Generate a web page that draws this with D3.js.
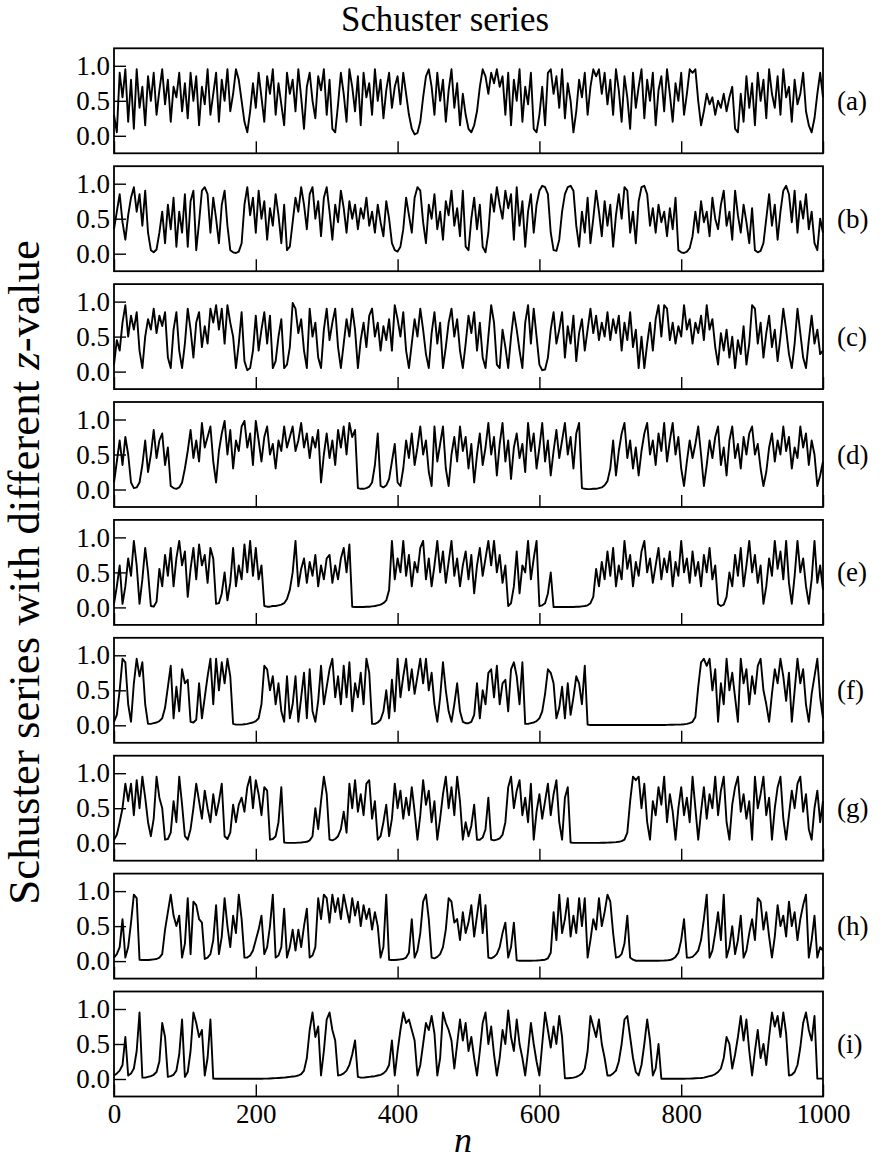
<!DOCTYPE html>
<html><head><meta charset="utf-8">
<script src="https://cdn.jsdelivr.net/npm/d3@7"></script>
<style>
body{margin:0;background:#fff}
svg{display:block}
text{font-family:"Liberation Serif","DejaVu Serif",serif;fill:#000}
</style>
</head><body>
<svg id="chart" width="888" height="1175"></svg>
<script>
// ---------------- data ----------------
const titleText = "Schuster series";
const yLabelMain = "Schuster series with different ";
const yLabelVar = "z";
const yLabelTail = "-value";
const xLabelText = "n";
const panelLabels = ["(a)","(b)","(c)","(d)","(e)","(f)","(g)","(h)","(i)"];
const xTicks = [0,200,400,600,800,1000];
const yTicks = [0.0,0.5,1.0];
const nStep = 4; // values sampled at n = 0,4,8,...,1000

const seriesA = [
.3,.05,.9,.55,.95,.2,.8,.1,.95,.4,.7,.15,.85,.5,.9,.3,.65,.95,.45,.8,.2,.7,.55,.9,.35,
.75,.25,.9,.5,.85,.15,.7,.45,.95,.3,.6,.9,.2,.8,.5,.95,.35,.6,.95,.8,.5,.2,.05,.35,.75,
.4,.9,.55,.2,.85,.6,.95,.3,.75,.45,.15,.9,.6,.8,.35,.95,.55,.1,.7,.9,.5,.25,.85,.65,.95,
.3,.8,.1,.05,.45,.9,.6,.2,.95,.7,.35,.85,.15,.9,.55,.75,.3,.95,.5,.8,.25,.65,.9,.4,.7,
.85,.45,.9,.6,.3,.1,.02,.04,.2,.55,.85,.95,.7,.3,.9,.5,.8,.2,.65,.95,.4,.75,.15,.6,.3,
.1,.05,.15,.35,.7,.95,.85,.6,.9,.75,.95,.7,.85,.3,.9,.15,.8,.5,.95,.2,.7,.45,.9,.1,.05,
.3,.7,.15,.9,.95,.6,.85,.4,.95,.25,.75,.5,.05,.35,.8,.55,.9,.3,.7,.95,.85,.95,.6,.9,.45,
.8,.3,.95,.65,.2,.85,.55,.1,.9,.4,.7,.95,.25,.8,.5,.9,.15,.65,.85,.35,.95,.6,.2,.75,.5,
.9,.3,.6,.95,.9,.95,.5,.15,.35,.6,.45,.55,.3,.5,.4,.6,.35,.55,.7,.1,.05,.6,.2,.85,.4,
.75,.15,.9,.5,.8,.25,.95,.6,.4,.85,.3,.95,.55,.7,.2,.8,.45,.6,.9,.35,.15,.05,.25,.6,.9,
.55];

const seriesB = [
.35,.6,.85,.45,.2,.55,.8,.95,.6,.85,.4,.9,.3,.05,.02,.06,.3,.6,.15,.7,.35,.8,.1,.6,.3,
.85,.1,.75,.9,.05,.45,.9,.95,.85,.3,.8,.5,.15,.7,.9,.4,.05,.02,.01,.03,.15,.7,.95,.55,.8,
.3,.9,.5,.75,.2,.65,.4,.85,.55,.15,.7,.05,.1,.45,.8,.6,.95,.7,.35,.85,.95,.5,.75,.25,.8,
.95,.6,.2,.7,.45,.9,.65,.3,.75,.5,.7,.35,.65,.5,.8,.4,.6,.3,.7,.45,.25,.75,.5,.15,.05,
.03,.1,.35,.8,.55,.3,.8,.95,.9,.45,.15,.7,.5,.85,.35,.6,.2,.75,.55,.9,.4,.65,.25,.9,.1,
.05,.5,.8,.35,.7,.1,.02,.3,.85,.6,.95,.7,.5,.9,.65,.85,.2,.95,.4,.75,.1,.6,.85,.3,.7,
.9,.97,.95,.85,.3,.05,.04,.2,.6,.85,.95,.97,.9,.4,.1,.6,.3,.8,.15,.5,.9,.6,.25,.75,.4,
.7,.1,.55,.85,.5,.95,.9,.3,.6,.15,.75,.95,.97,.85,.4,.65,.3,.7,.45,.6,.25,.65,.35,.8,.05,
.02,.01,.03,.08,.25,.6,.3,.75,.45,.6,.25,.8,.5,.35,.7,.9,.4,.6,.2,.9,.55,.3,.7,.45,.15,
.65,.05,.02,.04,.15,.5,.85,.4,.7,.2,.6,.9,.97,.85,.45,.9,.3,.75,.5,.85,.35,.6,.15,.05,.5,
.3];

const seriesC = [
.1,.45,.3,.7,.95,.5,.8,.6,.85,.3,.05,.5,.75,.6,.9,.55,.8,.65,.85,.2,.05,.6,.85,.3,.05,
.4,.9,.6,.2,.7,.85,.35,.65,.4,.9,.7,.95,.6,.9,.4,.95,.7,.5,.05,.4,.85,.15,.02,.05,.3,
.8,.3,.6,.85,.4,.8,.05,.15,.5,.75,.05,.1,.35,.98,.9,.55,.75,.3,.05,.9,.5,.7,.2,.05,.6,
.9,.45,.7,.9,.35,.05,.4,.75,.5,.9,.6,.05,.45,.7,.35,.8,.9,.5,.7,.3,.65,.45,.75,.3,.95,
.75,.5,.85,.3,.05,.4,.75,.5,.9,.6,.25,.05,.55,.85,.4,.7,.05,.35,.7,.9,.5,.75,.3,.05,.4,
.8,.55,.85,.3,.7,.2,.05,.5,.95,.7,.1,.05,.6,.35,.05,.5,.85,.6,.3,.05,.7,.95,.4,.9,.5,
.1,.02,.03,.2,.6,.85,.4,.6,.85,.2,.65,.4,.8,.15,.55,.75,.3,.6,.9,.55,.8,.45,.7,.5,.85,
.45,.75,.55,.8,.3,.7,.45,.85,.35,.6,.05,.5,.05,.4,.7,.3,.75,.95,.5,.95,.9,.45,.7,.4,.65,
.5,.95,.6,.75,.4,.7,.55,.8,.45,.95,.6,.75,.35,.1,.55,.3,.6,.2,.5,.05,.45,.25,.65,.1,.4,
.95,.9,.4,.7,.2,.55,.8,.35,.6,.15,.5,.9,.6,.25,.05,.4,.9,.55,.2,.05,.45,.8,.4,.6,.25,
.3];

const seriesD = [
.1,.4,.7,.35,.75,.5,.1,.02,.03,.1,.35,.7,.25,.5,.85,.45,.7,.8,.35,.6,.05,.02,.01,.03,.1,
.3,.55,.85,.45,.7,.4,.95,.6,.75,.9,.4,.1,.55,.8,.98,.5,.85,.3,.7,.55,.9,.98,.6,.8,.35,
.98,.7,.4,.75,.9,.5,.65,.3,.7,.55,.9,.6,.75,.9,.55,.7,.95,.6,.8,.45,.75,.6,.85,.1,.5,
.8,.45,.7,.35,.85,.6,.9,.5,.95,.75,.85,.02,.01,.01,.02,.04,.1,.35,.8,.05,.03,.06,.15,.4,.65,
.1,.05,.3,.7,.45,.8,.35,.6,.9,.5,.7,.25,.05,.9,.4,.65,.9,.3,.05,.5,.75,.4,.9,.55,.75,
.3,.65,.1,.5,.8,.35,.6,.95,.5,.75,.2,.65,.95,.4,.7,.15,.6,.8,.45,.65,.25,.95,.55,.8,.3,
.6,.95,.4,.7,.2,.55,.85,.45,.7,.95,.5,.75,.3,.8,.95,.02,.01,.005,.005,.01,.01,.02,.03,.06,.12,
.3,.7,.2,.55,.8,.95,.45,.7,.3,.6,.2,.55,.8,.95,.5,.7,.35,.8,.55,.95,.4,.7,.95,.5,.75,
.3,.05,.4,.7,.45,.65,.9,.5,.05,.35,.7,.45,.75,.9,.35,.6,.2,.7,.9,.45,.65,.3,.75,.5,.8,
.9,.5,.65,.3,.05,.25,.6,.8,.4,.7,.5,.9,.55,.75,.3,.6,.45,.9,.6,.8,.35,.7,.5,.05,.2,
.4];

const seriesE = [
.05,.3,.6,.05,.3,.7,.45,.95,.6,.05,.4,.85,.5,.02,.01,.08,.55,.3,.75,.45,.85,.3,.7,.95,.6,
.8,.15,.55,.85,.4,.9,.6,.75,.35,.85,.7,.05,.06,.2,.5,.1,.35,.85,.3,.6,.4,.9,.5,.95,.45,
.85,.4,.6,.02,.01,.01,.02,.02,.03,.04,.06,.12,.25,.5,.95,.3,.55,.7,.35,.65,.45,.75,.3,.6,.4,
.7,.75,.35,.6,.4,.7,.85,.5,.9,.01,.005,.005,.005,.005,.01,.01,.015,.02,.03,.04,.06,.1,.25,.95,.4,
.7,.5,.95,.45,.75,.3,.65,.5,.85,.95,.4,.7,.3,.6,.95,.5,.8,.35,.65,.95,.45,.7,.3,.6,.8,
.4,.75,.2,.6,.85,.45,.7,.95,.6,.95,.5,.75,.35,.6,.02,.06,.3,.8,.2,.6,.5,.95,.4,.7,.95,
.02,.03,.06,.2,.5,.005,.005,.005,.005,.005,.005,.005,.005,.01,.01,.015,.02,.03,.06,.15,.55,.3,.65,.4,.8,
.45,.85,.3,.6,.4,.95,.55,.75,.3,.65,.45,.8,.95,.5,.7,.35,.6,.85,.4,.7,.5,.8,.3,.65,.45,
.95,.5,.7,.35,.8,.45,.65,.3,.75,.5,.85,.4,.6,.05,.02,.04,.15,.5,.3,.75,.45,.85,.3,.6,.95,
.5,.75,.35,.6,.05,.3,.7,.45,.95,.55,.8,.4,.95,.35,.05,.45,.95,.5,.7,.3,.05,.4,.95,.35,.6,
.25];

const seriesF = [
.05,.15,.5,.95,.9,.3,.05,.6,.95,.7,.9,.3,.02,.02,.03,.04,.06,.1,.25,.55,.85,.1,.55,.2,.8,
.6,.65,.05,.04,.08,.6,.1,.4,.7,.95,.3,.95,.5,.9,.6,.95,.7,.02,.01,.01,.01,.015,.02,.03,.04,
.06,.1,.3,.85,.8,.5,.7,.3,.6,.2,.05,.7,.1,.3,.7,.05,.4,.75,.1,.8,.2,.05,.35,.85,.3,
.55,.8,.95,.4,.7,.3,.85,.4,.9,.2,.6,.4,.75,.3,.95,.75,.02,.02,.04,.08,.2,.5,.1,.65,.2,
.95,.4,.7,.95,.5,.8,.45,.7,.95,.6,.95,.5,.75,.3,.05,.4,.9,.5,.2,.05,.3,.6,.2,.05,.03,
.03,.05,.15,.6,.1,.5,.3,.75,.8,.4,.85,.3,.6,.65,.2,.8,.9,.7,.3,.9,.02,.02,.03,.04,.06,
.1,.2,.45,.8,.75,.6,.1,.25,.55,.1,.6,.15,.4,.7,.6,.3,.85,.01,.005,.005,.005,.005,.005,.005,.005,
.005,.005,.005,.005,.005,.005,.005,.005,.005,.005,.005,.005,.005,.005,.005,.005,.005,.005,.005,.005,.006,.007,.008,.009,.01,
.012,.015,.02,.03,.05,.12,.55,.9,.95,.85,.95,.5,.8,.05,.6,.3,.95,.5,.75,.4,.05,.95,.6,.8,.3,
.7,.45,.85,.95,.5,.3,.05,.45,.8,.6,.95,.7,.35,.75,.05,.5,.95,.6,.8,.3,.05,.45,.7,.95,.4,
.1];

const seriesG = [
.05,.12,.3,.5,.85,.6,.85,.4,.9,.5,.95,.65,.3,.1,.35,.95,.65,.5,.05,.06,.15,.6,.3,.95,.55,
.1,.05,.2,.5,.85,.6,.35,.75,.5,.3,.7,.4,.6,.85,.1,.06,.15,.55,.3,.55,.65,.45,.8,.95,.5,
.9,.7,.4,.8,.75,.05,.06,.1,.3,.8,.01,.005,.005,.005,.005,.008,.01,.015,.02,.04,.1,.5,.2,.6,.95,
.7,.05,.04,.06,.1,.2,.45,.15,.85,.5,.9,.45,.7,.4,.85,.9,.35,.6,.05,.1,.3,.55,.1,.35,.85,
.5,.75,.35,.65,.4,.8,.45,.05,.4,.9,.55,.75,.3,.6,.05,.35,.7,.95,.5,.8,.4,.95,.6,.05,.3,
.1,.25,.55,.05,.05,.08,.2,.65,.05,.04,.05,.07,.12,.3,.8,.95,.5,.75,.9,.4,.65,.3,.85,.05,.45,
.7,.35,.6,.85,.4,.7,.9,.3,.05,.65,.8,.01,.005,.005,.005,.005,.005,.005,.005,.005,.005,.005,.006,.007,.008,
.01,.012,.015,.02,.03,.05,.15,.6,.95,.9,.95,.5,.85,.3,.05,.6,.4,.8,.55,.95,.3,.7,.45,.05,.5,
.8,.4,.65,.3,.95,.5,.05,.45,.8,.35,.7,.5,.95,.4,.75,.95,.3,.05,.55,.8,.95,.45,.7,.35,.6,
.05,.95,.5,.7,.95,.4,.65,.05,.5,.8,.95,.35,.05,.4,.75,.5,.85,.95,.45,.7,.2,.05,.5,.75,.3,
.6];

const seriesH = [
.05,.1,.2,.6,.05,.2,.55,.95,.9,.02,.015,.015,.015,.02,.025,.03,.05,.1,.45,.7,.95,.65,.5,.65,.05,
.25,.9,.1,.85,.8,.6,.55,.03,.05,.1,.3,.8,.1,.35,.9,.5,.2,.65,.4,.95,.6,.05,.05,.08,.15,
.3,.45,.65,.1,.2,.5,.95,.05,.08,.2,.75,.05,.2,.45,.15,.45,.2,.5,.75,.05,.08,.2,.9,.6,.95,
.9,.55,.95,.7,.9,.6,.95,.75,.55,.9,.65,.85,.5,.8,.6,.75,.45,.7,.5,.05,.2,.95,.02,.015,.015,
.02,.025,.03,.05,.12,.6,.05,.15,.4,.85,.95,.6,.05,.04,.06,.1,.2,.45,.9,.85,.55,.6,.3,.7,.4,
.55,.8,.35,.65,.95,.4,.8,.05,.04,.06,.1,.2,.4,.55,.05,.2,.55,.01,.005,.005,.005,.005,.006,.007,.008,
.01,.015,.02,.04,.12,.7,.3,.95,.4,.6,.9,.35,.65,.4,.9,.5,.9,.05,.3,.6,.45,.9,.5,.7,.95,
.85,.4,.05,.06,.1,.25,.65,.05,.02,.005,.005,.005,.005,.005,.005,.005,.005,.006,.007,.008,.01,.015,.03,.06,.12,
.3,.6,.05,.05,.06,.1,.15,.3,.6,.95,.05,.15,.4,.7,.3,.95,.05,.2,.5,.1,.3,.65,.05,.15,.4,
.6,.3,.9,.85,.45,.7,.35,.05,.35,.8,.5,.65,.35,.85,.5,.7,.3,.6,.8,.95,.05,.3,.65,.05,.2,
.15];

const seriesI = [
.05,.08,.12,.2,.6,.05,.08,.15,.4,.95,.02,.02,.03,.04,.06,.1,.25,.8,.6,.03,.04,.06,.12,.35,.85,
.03,.1,.4,.95,.8,.6,.7,.05,.3,.85,.005,.003,.003,.003,.003,.003,.003,.003,.003,.003,.003,.003,.003,.003,.003,
.003,.003,.004,.005,.006,.008,.01,.012,.015,.018,.02,.025,.03,.035,.04,.05,.07,.12,.3,.7,.95,.6,.75,.05,.4,
.85,.95,.7,.55,.05,.06,.08,.12,.2,.35,.55,.03,.02,.02,.025,.03,.035,.04,.05,.06,.08,.12,.2,.55,.05,
.4,.7,.95,.8,.85,.7,.55,.05,.2,.5,.8,.7,.9,.65,.05,.3,.95,.8,.7,.55,.15,.5,.85,.55,.8,
.4,.6,.3,.05,.4,.8,.95,.5,.75,.35,.05,.3,.7,.5,.98,.6,.4,.85,.5,.3,.05,.4,.8,.5,.25,
.05,.5,.95,.7,.45,.75,.5,.9,.6,.01,.01,.015,.02,.03,.05,.08,.15,.4,.9,.75,.6,.85,.5,.3,.05,
.05,.08,.12,.25,.5,.85,.9,.6,.3,.1,.05,.2,.5,.85,.55,.05,.15,.5,.003,.003,.003,.003,.003,.003,.003,
.003,.004,.005,.006,.008,.01,.012,.015,.02,.03,.04,.05,.07,.1,.15,.3,.6,.5,.15,.35,.6,.9,.55,.85,.4,
.05,.4,.7,.3,.5,.2,.6,.95,.75,.9,.6,.95,.65,.05,.06,.1,.2,.45,.8,.95,.7,.55,.9,.005,.005,
.005];

const allSeries = [seriesA,seriesB,seriesC,seriesD,seriesE,seriesF,seriesG,seriesH,seriesI];

// ---------------- drawing ----------------
const svg = d3.select("#chart");
const FONT = "Liberation Serif";
const plotLeft = 114, plotRight = 823;
const panelTop = 48.3, panelH = 105, panelGap = 117.9;
const yDomain = [-0.25, 1.25];

const x = d3.scaleLinear().domain([0, 1000]).range([plotLeft, plotRight]);

allSeries.forEach((vals, k) => {
  const top = panelTop + k * panelGap;
  const y = d3.scaleLinear().domain(yDomain).range([top + panelH, top]);
  const g = svg.append("g");

  const line = d3.line().x((d, i) => x(i * nStep)).y(d => y(d));
  g.append("path").datum(vals)
    .attr("d", line)
    .attr("fill", "none")
    .attr("stroke", "#000")
    .attr("stroke-width", 1.9)
    .attr("stroke-linejoin", "round");

  const ya = g.append("g")
    .attr("transform", `translate(${plotLeft},0)`)
    .call(d3.axisLeft(y).tickValues(yTicks).tickSize(-12).tickPadding(4).tickFormat(d3.format(".1f")));
  ya.select(".domain").remove();
  ya.attr("font-family", FONT).attr("font-size", 27);
  ya.selectAll("line").attr("stroke-width", 1.4);

  const last = k === allSeries.length - 1;
  const xa = g.append("g")
    .attr("transform", `translate(0,${top + panelH})`)
    .call(d3.axisBottom(x).tickValues(xTicks).tickSize(-12).tickPadding(7)
      .tickFormat(last ? d3.format("d") : () => ""));
  xa.select(".domain").remove();
  xa.attr("font-family", FONT).attr("font-size", 27);
  xa.selectAll("line").attr("stroke-width", 1.4);

  g.append("rect")
    .attr("x", plotLeft).attr("y", top)
    .attr("width", plotRight - plotLeft).attr("height", panelH)
    .attr("fill", "none").attr("stroke", "#000").attr("stroke-width", 1.8);

  g.append("text")
    .attr("x", 837).attr("y", top + panelH / 2)
    .attr("dominant-baseline", "central")
    .attr("font-family", FONT)
    .attr("font-size", 27)
    .text(panelLabels[k]);
});

// title (font size fitted to the reference width)
const title = svg.append("text")
  .attr("x", 445).attr("y", 31)
  .attr("text-anchor", "middle")
  .attr("font-family", FONT)
  .attr("font-size", 24)
  .text(titleText);
{
  const w = title.node().getComputedTextLength();
  title.attr("font-size", 24 * 208 / w);
}

// y label
const yl = svg.append("text")
  .attr("transform", `translate(39,${(panelTop + panelTop + 8 * panelGap + panelH) / 2}) rotate(-90)`)
  .attr("text-anchor", "middle")
  .attr("font-family", FONT)
  .attr("font-size", 28);
yl.append("tspan").text(yLabelMain);
yl.append("tspan").attr("font-style", "italic").text(yLabelVar);
yl.append("tspan").text(yLabelTail);
{
  const w = yl.node().getComputedTextLength();
  yl.attr("font-size", 28 * 665 / w);
}

// x label
svg.append("text")
  .attr("x", 463).attr("y", 1152)
  .attr("text-anchor", "middle")
  .attr("font-family", FONT)
  .attr("font-style", "italic")
  .attr("font-size", 36)
  .text(xLabelText);
</script>
</body></html>
